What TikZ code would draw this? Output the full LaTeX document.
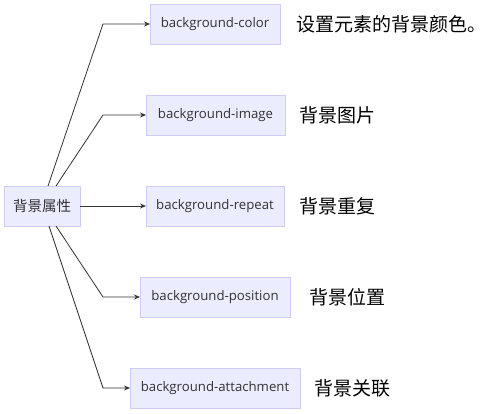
\documentclass[tikz,border=0pt]{standalone}
\usepackage{fontspec}
\setmainfont{Open Sans}
\newfontfamily\cjk{Noto Sans CJK SC}
\usetikzlibrary{arrows.meta, positioning}
\definecolor{boxfill}{HTML}{ECECFF}
\definecolor{boxdraw}{HTML}{CCCCF5}
\definecolor{ink}{HTML}{333333}

\begin{document}
\begin{tikzpicture}[
      x=1pt, y=-1pt,
      every node/.style = {inner sep=0pt, outer sep=0pt},
      attr/.style = {shape=rectangle, draw=boxdraw, fill=boxfill,
        minimum height=40pt, inner xsep=10pt, text=ink,
        font=\fontsize{13.2}{15}\selectfont},
      note/.style = {anchor=west, text=black, font=\cjk\fontsize{19}{22}\selectfont},
      link/.style = {draw=ink, line width=0.8pt, -{Stealth[length=6pt, width=5pt]}}
    ]
      \useasboundingbox (0,0) rectangle (489,414);
      % root
      \node[attr, minimum width=76pt, inner xsep=4pt, font=\cjk\fontsize{14.5}{17}\selectfont] (root) at (42,206) {背景属性};
      % properties
      \node[attr, minimum width=130pt] (color) at (215,24) {background-color};
      \node[attr, minimum width=139pt] (image) at (215.5,115) {background-image};
      \node[attr, minimum width=138pt] (repeat) at (215,206) {background-repeat};
      \node[attr, minimum width=150pt] (position) at (215,297) {background-position};
      \node[attr, minimum width=170pt] (attach) at (215,388) {background-attachment};
      % descriptions
      \node[note] (colortxt) at (296,24) {设置元素的背景颜色。};
      \node[note] (imagetxt) at (299,115) {背景图片};
      \node[note] (repeattxt) at (299,206) {背景重复};
      \node[note] (positiontxt) at (309,297) {背景位置};
      \node[note] (attachtxt) at (314,388) {背景关联};
      % bends
      \coordinate (k1) at (103,24);
      \coordinate (k2) at (103,115);
      \coordinate (k4) at (103,297);
      \coordinate (k5) at (103,388);
      \draw[link] ([xshift=6pt]root.north) -- (k1) -- (color.west);
      \draw[link] ([xshift=14pt]root.north) -- (k2) -- (image.west);
      \draw[link] (root.east) -- (repeat.west);
      \draw[link] ([xshift=14pt]root.south) -- (k4) -- (position.west);
      \draw[link] ([xshift=7pt]root.south) -- (k5) -- (attach.west);
    \end{tikzpicture}
\end{document}
